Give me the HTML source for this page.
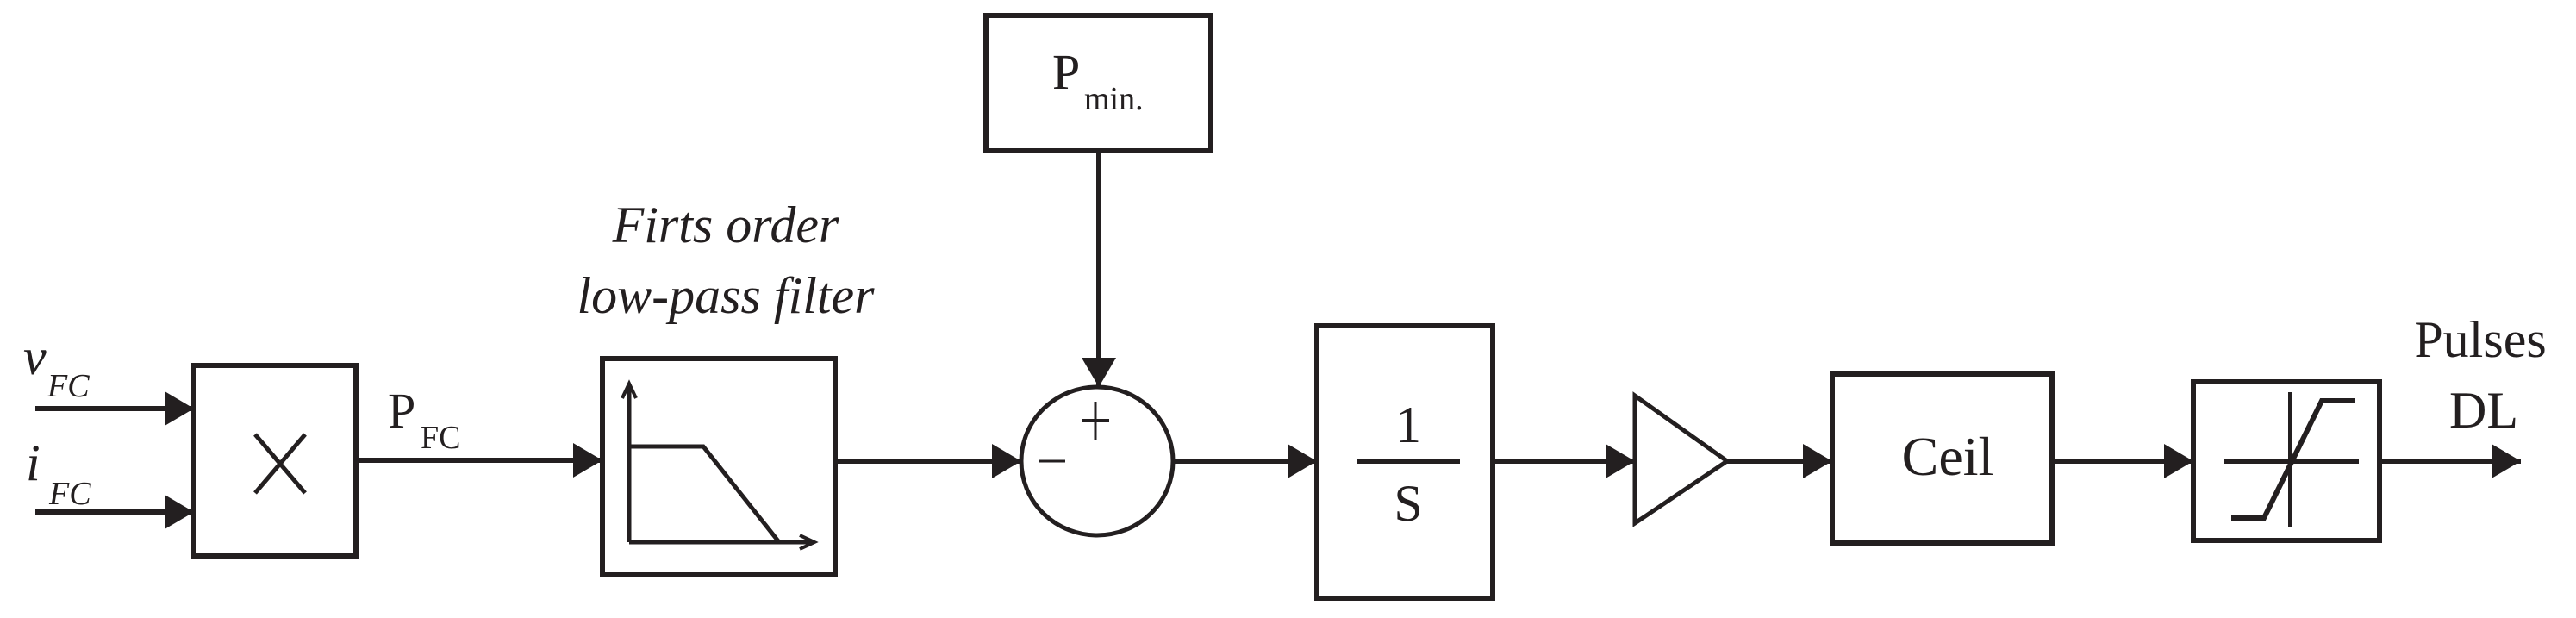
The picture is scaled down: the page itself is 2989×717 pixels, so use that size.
<!DOCTYPE html>
<html><head><meta charset="utf-8"><style>
html,body{margin:0;padding:0;background:#fff;}
svg{display:block;}
text{font-family:"Liberation Serif",serif;fill:#231f20;}
</style></head><body>
<svg width="2989" height="717" viewBox="0 0 2989 717" xmlns="http://www.w3.org/2000/svg">
<defs>
<marker id="a" markerUnits="userSpaceOnUse" markerWidth="34" markerHeight="40" refX="34" refY="20" orient="auto">
<path d="M0,0 L34,20 L0,40 Z" fill="#231f20"/>
</marker>
</defs>
<g stroke="#231f20" stroke-width="6" fill="none">
<!-- inputs -->
<line x1="41" y1="474" x2="225" y2="474" marker-end="url(#a)"/>
<line x1="41" y1="594" x2="225" y2="594" marker-end="url(#a)"/>
<!-- multiply box -->
<rect x="225" y="424" width="188" height="221"/>
<line x1="296" y1="504" x2="354" y2="572" stroke-width="5"/>
<line x1="354" y1="504" x2="296" y2="572" stroke-width="5"/>
<line x1="413" y1="534" x2="699" y2="534" marker-end="url(#a)"/>
<!-- filter -->
<rect x="699" y="416" width="270" height="251"/>
<line x1="730" y1="629" x2="730" y2="448" stroke-width="5"/>
<path d="M722,462 L730,445 L738,462" stroke-width="4"/>
<line x1="730" y1="629" x2="943" y2="629" stroke-width="5"/>
<path d="M928,621 L945,629 L928,637" stroke-width="4"/>
<polyline points="730,518 816,518 904,629" stroke-width="5"/>
<line x1="969" y1="535" x2="1185" y2="535" marker-end="url(#a)"/>
<!-- Pmin -->
<rect x="1144" y="18" width="261" height="157"/>
<line x1="1275" y1="175" x2="1275" y2="449" marker-end="url(#a)"/>
<!-- sum -->
<ellipse cx="1273" cy="535" rx="88" ry="86" stroke-width="5"/>
<line x1="1255" y1="488" x2="1287" y2="488" stroke-width="4"/>
<line x1="1271" y1="466" x2="1271" y2="510" stroke-width="3"/>
<line x1="1205" y1="535" x2="1236" y2="535" stroke-width="3"/>
<line x1="1361" y1="535" x2="1528" y2="535" marker-end="url(#a)"/>
<!-- integrator -->
<rect x="1528" y="378" width="204" height="316"/>
<line x1="1574" y1="535" x2="1694" y2="535"/>
<line x1="1732" y1="535" x2="1897" y2="535" marker-end="url(#a)"/>
<!-- gain -->
<polygon points="1897,459 2004,535 1897,607" stroke-width="5"/>
<line x1="2004" y1="535" x2="2126" y2="535" marker-end="url(#a)"/>
<!-- ceil -->
<rect x="2126" y="434" width="255" height="196"/>
<line x1="2381" y1="535" x2="2545" y2="535" marker-end="url(#a)"/>
<!-- saturation -->
<rect x="2545" y="443" width="216" height="184"/>
<line x1="2657" y1="455" x2="2657" y2="611" stroke-width="4"/>
<line x1="2581" y1="535" x2="2737" y2="535"/>
<polyline points="2589,601 2627,601 2694,465 2732,465"/>
<line x1="2761" y1="535" x2="2925" y2="535" marker-end="url(#a)"/>
</g>
<!-- text -->
<text x="27" y="434" font-size="60" font-style="italic">v</text>
<text x="55" y="460" font-size="38" font-style="italic">FC</text>
<text x="30" y="557" font-size="60" font-style="italic">i</text>
<text x="57" y="585" font-size="38" font-style="italic">FC</text>
<text x="450" y="496" font-size="58">P</text>
<text x="488" y="520" font-size="38">FC</text>
<text x="842" y="281" font-size="60" font-style="italic" text-anchor="middle">Firts order</text>
<text x="842" y="363" font-size="60" font-style="italic" text-anchor="middle">low-pass filter</text>
<text x="1221" y="103" font-size="58">P</text>
<text x="1258" y="127" font-size="38">min.</text>
<text x="1634" y="513" font-size="60" text-anchor="middle">1</text>
<text x="1634" y="604" font-size="60" text-anchor="middle">S</text>
<text x="2260" y="551" font-size="64" text-anchor="middle">Ceil</text>
<text x="2878" y="414" font-size="60" text-anchor="middle">Pulses</text>
<text x="2882" y="496" font-size="60" text-anchor="middle">DL</text>
</svg>
</body></html>
